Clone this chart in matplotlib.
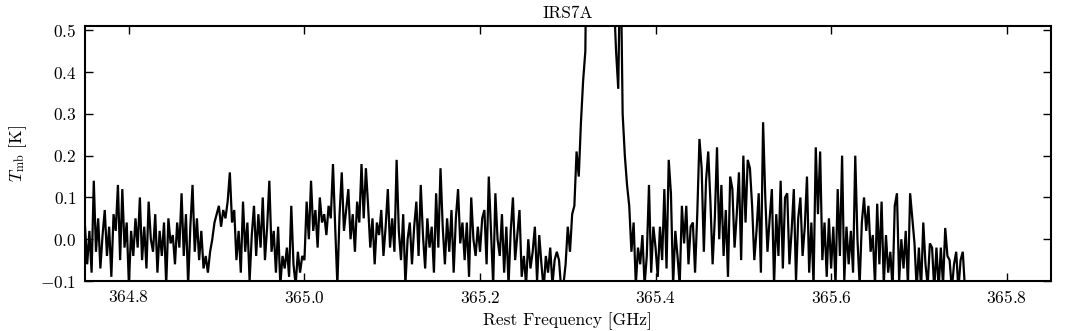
import numpy as np
import matplotlib
matplotlib.use("Agg")
import matplotlib.pyplot as plt
from matplotlib.ticker import MultipleLocator, ScalarFormatter

plt.rcParams['font.family'] = 'serif'
plt.rcParams['font.serif'] = ['cmr10']
plt.rcParams['mathtext.fontset'] = 'cm'
plt.rcParams['axes.formatter.use_mathtext'] = True
plt.rcParams['axes.unicode_minus'] = True

# spectral axis: first channel and channel width (GHz)
f0 = 364.75
dchan = 0.0025

# main-beam temperature [K], per 0.05 GHz block
seg_a = [0.03, -0.06, 0.02, -0.08, 0.14, -0.03, 0.05, -0.07, 0.01, 0.07, -0.04, 0.03, -0.09, 0.06, 0.02, 0.13, -0.05, 0.12, -0.02, 0.04]
seg_b = [-0.11, 0.02, -0.04, 0.05, -0.02, 0.10, -0.05, 0.03, -0.07, 0.09, 0.0, -0.03, 0.06, -0.08, 0.02, -0.04, 0.04, -0.11, 0.05, -0.01]
seg_c = [0.01, -0.06, 0.04, -0.02, 0.11, -0.04, 0.06, -0.11, 0.03, 0.13, -0.03, 0.05, -0.05, 0.02, -0.07, -0.04, -0.08, -0.03, 0.0, 0.04]
seg_d = [0.06, 0.08, 0.03, 0.07, 0.05, 0.09, 0.16, 0.04, 0.07, -0.05, 0.02, -0.08, 0.09, -0.03, 0.04, -0.10, 0.01, 0.08, -0.04, 0.06]
seg_e = [-0.02, 0.10, -0.05, 0.03, 0.14, -0.03, 0.02, -0.08, 0.03, -0.11, -0.04, -0.07, -0.02, -0.09, 0.08, -0.06, -0.11, -0.03, -0.08, -0.04]
seg_f = [-0.05, 0.09, 0.0, 0.14, 0.02, 0.07, -0.02, 0.10, 0.04, 0.06, 0.01, 0.08, 0.05, 0.18, 0.03, -0.11, 0.06, 0.16, 0.02, 0.07]
seg_g = [0.12, 0.0, 0.06, -0.03, 0.09, 0.04, 0.18, 0.05, 0.17, 0.08, -0.02, 0.05, -0.06, 0.04, 0.01, 0.07, -0.04, 0.03, 0.12, -0.02]
seg_h = [0.05, -0.03, 0.19, 0.02, -0.05, 0.06, -0.11, 0.0, 0.04, -0.06, 0.03, 0.09, -0.04, 0.13, 0.01, -0.07, 0.05, -0.02, 0.03, -0.08]
seg_i = [0.11, -0.02, 0.17, 0.03, -0.06, 0.05, -0.03, 0.07, -0.08, 0.05, 0.12, -0.01, 0.04, -0.05, 0.04, -0.09, 0.10, 0.0, -0.04, 0.03]
seg_j = [-0.03, 0.05, 0.07, -0.06, 0.15, 0.02, -0.11, 0.11, 0.0, -0.04, 0.06, -0.08, 0.03, -0.11, 0.02, 0.10, -0.05, 0.01, 0.07, -0.09]
seg_k = [-0.04, -0.11, 0.0, -0.07, -0.03, 0.03, -0.10, 0.01, -0.06, -0.12, -0.04, -0.08, -0.02, -0.11, -0.05, -0.03, -0.05, -0.12, -0.11, -0.06]
seg_l = [0.03, -0.03, 0.06, 0.08, 0.21, 0.15, 0.28, 0.38, 0.45, 0.95, 1.3, 1.6, 1.85, 2.0, 2.1, 2.05, 1.95, 1.8, 1.6, 1.35]
seg_m = [0.9, 0.58, 0.45, 0.36, 0.72, 0.30, 0.20, 0.13, 0.08, -0.03, 0.04, -0.11, -0.02, -0.06, 0.01, -0.11, -0.04, 0.13, -0.08, 0.03]
seg_n = [-0.02, -0.09, 0.03, -0.05, 0.12, -0.07, 0.19, 0.11, -0.11, 0.02, -0.04, -0.11, 0.08, -0.01, 0.08, -0.06, 0.03, 0.04, -0.08, 0.06]
seg_o = [0.24, 0.17, -0.03, 0.14, 0.21, 0.09, -0.06, 0.05, 0.22, 0.0, 0.13, -0.04, 0.07, -0.09, 0.15, 0.12, -0.02, 0.06, 0.16, -0.05]
seg_p = [0.20, 0.04, 0.19, 0.17, 0.08, -0.05, 0.02, 0.11, -0.08, 0.28, 0.10, -0.03, 0.05, 0.12, -0.11, 0.06, -0.04, 0.14, -0.07, 0.10]
seg_q = [0.11, -0.06, 0.02, 0.12, -0.10, 0.05, 0.10, -0.04, 0.03, 0.15, -0.08, 0.04, -0.11, 0.22, 0.06, 0.21, -0.05, 0.04, -0.09, 0.05]
seg_r = [-0.07, 0.03, -0.11, 0.12, -0.04, 0.20, -0.10, 0.03, -0.06, 0.02, -0.08, 0.20, 0.0, -0.11, 0.04, 0.10, 0.02, 0.08, -0.03, 0.01]
seg_s = [-0.11, 0.085, -0.06, 0.09, -0.11, 0.01, -0.08, -0.03, -0.12, 0.08, 0.11, -0.10, 0.0, -0.07, 0.02, -0.11, 0.11, 0.05, -0.01, -0.12]
seg_t = [-0.02, -0.12, 0.04, -0.06, -0.11, -0.01, -0.02, -0.12, -0.02, -0.12, -0.02, -0.11, 0.027, -0.04, -0.05, -0.12, -0.06, -0.03, -0.12, -0.05, -0.03, -0.12]

tmb = np.array(seg_a + seg_b + seg_c + seg_d + seg_e + seg_f + seg_g + seg_h + seg_i + seg_j
               + seg_k + seg_l + seg_m + seg_n + seg_o + seg_p + seg_q + seg_r + seg_s + seg_t)
freq = f0 + dchan * np.arange(len(tmb))

fig = plt.figure(figsize=(10.72, 3.31), dpi=100)
ax = fig.add_axes([0.0793, 0.151, 0.9007, 0.770])

ax.plot(freq, tmb, color='black', lw=1.6, solid_joinstyle='miter')

ax.set_xlim(364.75, 365.85)
ax.set_ylim(-0.1, 0.51)
ax.xaxis.set_major_locator(MultipleLocator(0.2))
ax.yaxis.set_major_locator(MultipleLocator(0.1))
fmt = ScalarFormatter(useOffset=False)
ax.xaxis.set_major_formatter(fmt)
ax.tick_params(direction='in', top=True, right=True, length=6, width=1, labelsize=12.5, pad=6)
for sp in ax.spines.values():
    sp.set_linewidth(1.5)

ax.set_title('IRS7A', fontsize=12.5, pad=6)
ax.set_xlabel('Rest Frequency [GHz]', fontsize=12.5, labelpad=4)
ax.set_ylabel(r'$T_{\rm mb}$ [K]', fontsize=12.5, labelpad=8)

fig.savefig('out.png', dpi=100)
